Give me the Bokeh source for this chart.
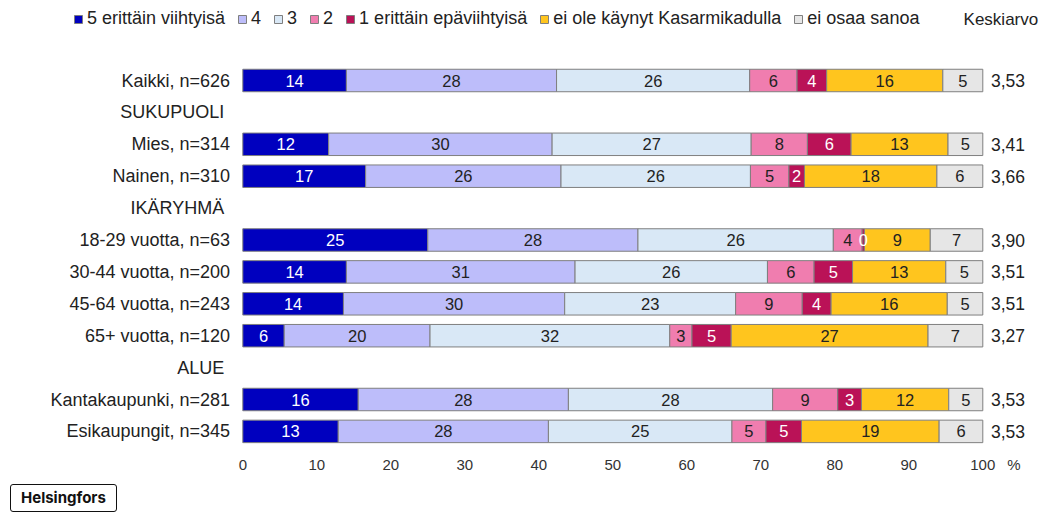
from bokeh.plotting import figure
from bokeh.models import ColumnDataSource, Legend, LegendItem, FixedTicker, Range1d, Div
from bokeh.layouts import column
from bokeh.core.properties import value
from bokeh.embed import file_html
from bokeh.resources import INLINE
import numpy as np

# ---- data ----
rows = ["Kaikki, n=626", "SUKUPUOLI", "Mies, n=314", "Nainen, n=310", "IKÄRYHMÄ",
        "18-29 vuotta, n=63", "30-44 vuotta, n=200", "45-64 vuotta, n=243",
        "65+ vuotta, n=120", "ALUE", "Kantakaupunki, n=281", "Esikaupungit, n=345"]
headers = ["SUKUPUOLI", "IKÄRYHMÄ", "ALUE"]
series = ["5 erittäin viihtyisä", "4", "3", "2", "1 erittäin epäviihtyisä",
          "ei ole käynyt Kasarmikadulla", "ei osaa sanoa"]
s5 = [14.0, 11.6, 16.6, 25.0, 14.0, 13.6, 5.6, 15.6, 12.9]
s4 = [28.4, 30.2, 26.4, 28.4, 30.9, 29.9, 19.7, 28.4, 28.4]
s3 = [26.1, 26.9, 25.6, 26.4, 26.0, 23.1, 32.4, 27.6, 24.8]
s2 = [6.4, 7.6, 5.2, 3.9, 6.3, 9.0, 3.0, 8.8, 4.6]
s1 = [4.0, 5.9, 2.1, 0.3, 5.2, 3.9, 5.3, 3.2, 4.8]
s_not = [15.7, 13.1, 17.9, 8.9, 12.6, 15.7, 26.6, 11.8, 18.6]
s_dk = [5.4, 4.7, 6.2, 7.1, 5.0, 4.8, 7.4, 4.6, 5.9]
keskiarvo = ["3,53", "3,41", "3,66", "3,90", "3,51", "3,51", "3,27", "3,53", "3,53"]
ticks = [0, 10, 20, 30, 40, 50, 60, 70, 80, 90, 100]
unit_label = "%"

colors = ["#0000BF", "#BDBDFA", "#D9E8F6", "#F07DAF", "#BA1257", "#FFC51E", "#E6E6E6"]
text_colors = ["white", "#222222", "#222222", "#222222", "white", "#222222", "#222222"]
FONT = "Liberation Sans"

values = [s5, s4, s3, s2, s1, s_not, s_dk]
row_y = list(range(len(rows)))
data_y = [i for i, r in enumerate(rows) if r not in headers]

W, H = 1046, 484
PX = 7.4          # pixels per percent
X0 = 242.3        # pixel of 0 %
ROW = 31.9        # pixels per row
Y0 = 80           # pixel of first row
FB = 447          # frame bottom

p = figure(width=W, height=H, output_backend="svg", toolbar_location=None,
           x_range=Range1d(-X0 / PX, (W - X0) / PX),
           y_range=Range1d((FB - Y0) / ROW, -Y0 / ROW),
           y_axis_location=None, min_border_left=0, min_border_right=0,
           min_border_top=0, min_border_bottom=H - FB)
p.outline_line_color = None
p.xgrid.visible = False
p.ygrid.visible = False

left = np.zeros(len(data_y))
items = []
sources = []
for name, vals, col in zip(series, values, colors):
    v = np.array(vals)
    src = ColumnDataSource(dict(y=data_y, left=left, right=left + v,
                                mid=left + v / 2, lab=[f"{x:.0f}" for x in v]))
    r = p.hbar(y="y", left="left", right="right", height=0.705, source=src,
               fill_color=col, line_color="#7f7f7f", line_width=1)
    items.append(LegendItem(label=name, renderers=[r]))
    sources.append(src)
    left = left + v

# segment value labels drawn on top of all bars
for src, tcol in zip(sources, text_colors):
    p.text(x="mid", y="y", text="lab", source=src, text_align="center",
           text_baseline="middle", text_color=tcol, text_font=value(FONT),
           text_font_size="16.5px")

# category labels
lsrc = ColumnDataSource(dict(y=row_y, x=[-2.5 if r in headers else -1.72 for r in rows],
                             t=rows))
p.text(x="x", y="y", text="t", source=lsrc, text_align="right", text_baseline="middle",
       text_color="#222222", text_font=value(FONT), text_font_size="18px")

# mean values
ksrc = ColumnDataSource(dict(y=data_y, x=[101.1] * len(data_y), t=keskiarvo))
p.text(x="x", y="y", text="t", source=ksrc, text_align="left", text_baseline="middle",
       text_color="#222222", text_font=value(FONT), text_font_size="17.5px")
p.text(x=[97.4], y=[(19 - Y0) / ROW], text=["Keskiarvo"], text_align="left",
       text_baseline="middle", text_color="#222222", text_font=value(FONT),
       text_font_size="17px")

legend = Legend(items=items, orientation="horizontal", location=(73, FB - 29),
                glyph_width=10, glyph_height=10, label_standoff=4, spacing=12,
                padding=0, margin=0, border_line_color=None,
                background_fill_alpha=0, label_text_font=FONT,
                label_text_font_size="18px", label_text_color="#222222",
                label_height=18, label_width=0)
p.add_layout(legend)

ax = p.xaxis[0]
pct_pos = 104.2
ax.ticker = FixedTicker(ticks=ticks + [pct_pos])
ax.major_label_overrides = {pct_pos: unit_label}
ax.axis_line_color = None
ax.major_tick_line_color = None
ax.minor_tick_line_color = None
ax.major_label_standoff = 2
ax.major_label_text_font = FONT
ax.major_label_text_font_size = "15px"
ax.major_label_text_color = "#333333"

logo = Div(text='<div style="display:inline-block;margin:0 0 0 10px;padding:5px 10px;'
                'border:1.5px solid #111;border-radius:3px;font-family:Inter,sans-serif;'
                'font-weight:bold;font-size:15px;line-height:16px;color:#111;">'
                'Helsingfors</div>', width=W, height=29, margin=(0, 0, 0, 0))

layout = column(p, logo, spacing=0)
open("out.html", "w").write(file_html(layout, INLINE))
